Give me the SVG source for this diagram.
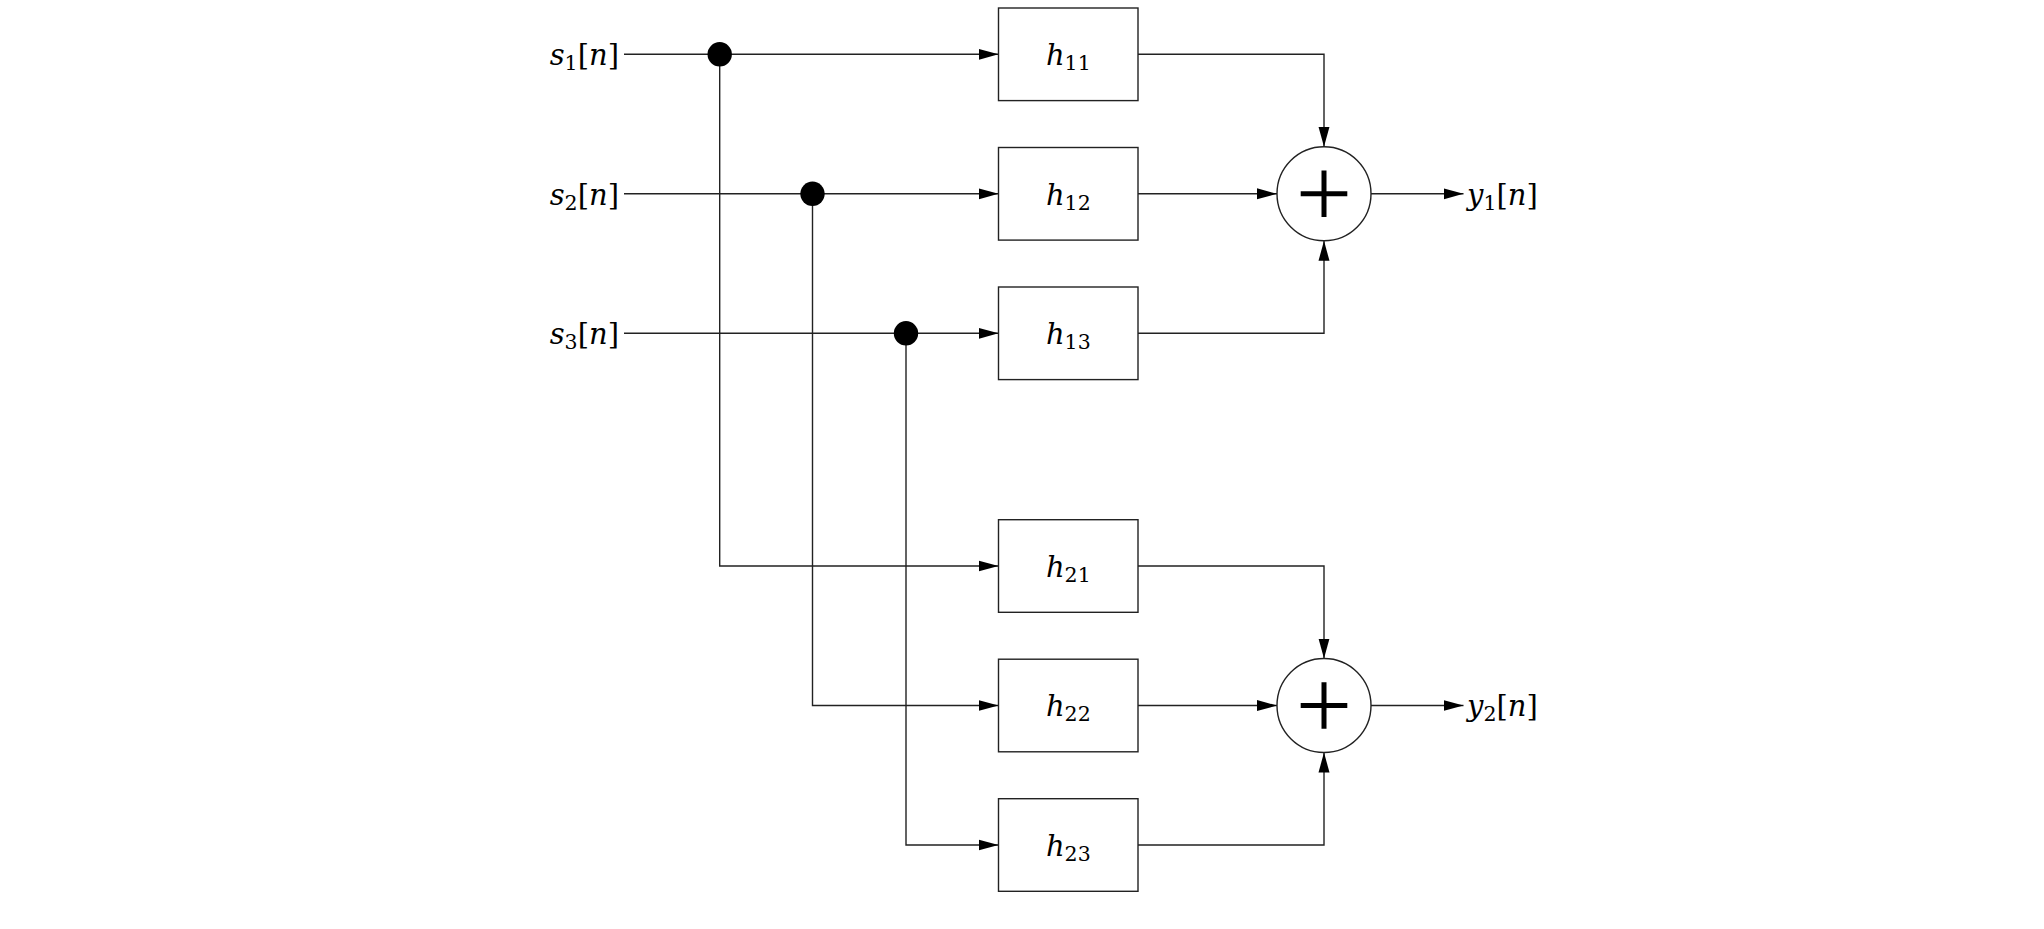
<svg xmlns="http://www.w3.org/2000/svg" width="2044" height="929" viewBox="0 0 2044 929">
<style>
.w{fill:none;stroke:#222;stroke-width:1.4}
.box{fill:#fff;stroke:#222;stroke-width:1.4}
.sum{fill:#fff;stroke:#222;stroke-width:1.4}
.plus{stroke:#000;stroke-width:5;fill:none}
.dot{fill:#000}
.t{font-family:'DejaVu Serif',serif;font-size:29px;fill:#000}
.i{font-style:italic}
.sub{font-size:20.5px}
</style>
<defs>
<marker id="arr" markerUnits="userSpaceOnUse" markerWidth="22" markerHeight="12" refX="20" refY="6" orient="auto">
<path d="M0,0.5 L20,6 L0,11.5 Z" fill="#000"/>
</marker>
</defs>
<rect width="2044" height="929" fill="#fff"/>
<g id="connectors">
<path class="w" d="M624,54.3 H998.5" marker-end="url(#arr)"/>
<path class="w" d="M624,193.8 H998.5" marker-end="url(#arr)"/>
<path class="w" d="M624,333.3 H998.5" marker-end="url(#arr)"/>
<path class="w" d="M719.7,54.3 V566 H998.5" marker-end="url(#arr)"/>
<path class="w" d="M812.5,193.8 V705.5 H998.5" marker-end="url(#arr)"/>
<path class="w" d="M906,333.3 V845 H998.5" marker-end="url(#arr)"/>
<path class="w" d="M1138,54.3 H1324 V146.8" marker-end="url(#arr)"/>
<path class="w" d="M1138,193.8 H1277" marker-end="url(#arr)"/>
<path class="w" d="M1138,333.3 H1324 V240.8" marker-end="url(#arr)"/>
<path class="w" d="M1371,193.8 H1463.5" marker-end="url(#arr)"/>
<path class="w" d="M1138,566 H1324 V658.5" marker-end="url(#arr)"/>
<path class="w" d="M1138,705.5 H1277" marker-end="url(#arr)"/>
<path class="w" d="M1138,845 H1324 V752.5" marker-end="url(#arr)"/>
<path class="w" d="M1371,705.5 H1463.5" marker-end="url(#arr)"/>
<circle class="dot" cx="719.7" cy="54.3" r="12.2"/>
<circle class="dot" cx="812.5" cy="193.8" r="12.2"/>
<circle class="dot" cx="906" cy="333.3" r="12.2"/>
</g>
<g id="in1"><text class="t" x="619" y="65" text-anchor="end"><tspan class="i">s</tspan><tspan class="sub" dy="5">1</tspan><tspan dy="-5">[</tspan><tspan class="i">n</tspan>]</text></g>
<g id="in2"><text class="t" x="619" y="204.5" text-anchor="end"><tspan class="i">s</tspan><tspan class="sub" dy="5">2</tspan><tspan dy="-5">[</tspan><tspan class="i">n</tspan>]</text></g>
<g id="in3"><text class="t" x="619" y="344" text-anchor="end"><tspan class="i">s</tspan><tspan class="sub" dy="5">3</tspan><tspan dy="-5">[</tspan><tspan class="i">n</tspan>]</text></g>
<g id="h11"><rect class="box" x="998.5" y="8" width="139.5" height="92.6"/><text class="t" x="1068.3" y="65.2" text-anchor="middle"><tspan class="i">h</tspan><tspan class="sub" dy="5">11</tspan></text></g>
<g id="h12"><rect class="box" x="998.5" y="147.5" width="139.5" height="92.6"/><text class="t" x="1068.3" y="204.7" text-anchor="middle"><tspan class="i">h</tspan><tspan class="sub" dy="5">12</tspan></text></g>
<g id="h13"><rect class="box" x="998.5" y="287" width="139.5" height="92.6"/><text class="t" x="1068.3" y="344.2" text-anchor="middle"><tspan class="i">h</tspan><tspan class="sub" dy="5">13</tspan></text></g>
<g id="h21"><rect class="box" x="998.5" y="519.7" width="139.5" height="92.6"/><text class="t" x="1068.3" y="576.9" text-anchor="middle"><tspan class="i">h</tspan><tspan class="sub" dy="5">21</tspan></text></g>
<g id="h22"><rect class="box" x="998.5" y="659.2" width="139.5" height="92.6"/><text class="t" x="1068.3" y="716.4" text-anchor="middle"><tspan class="i">h</tspan><tspan class="sub" dy="5">22</tspan></text></g>
<g id="h23"><rect class="box" x="998.5" y="798.7" width="139.5" height="92.6"/><text class="t" x="1068.3" y="855.9" text-anchor="middle"><tspan class="i">h</tspan><tspan class="sub" dy="5">23</tspan></text></g>
<g id="sum1"><circle class="sum" cx="1324" cy="193.8" r="47"/><path class="plus" d="M1300.7,193.8 H1347.3 M1324,170.5 V217.1"/></g>
<g id="sum2"><circle class="sum" cx="1324" cy="705.5" r="47"/><path class="plus" d="M1300.7,705.5 H1347.3 M1324,682.2 V728.8"/></g>
<g id="out1"><text class="t" x="1467" y="204.5" text-anchor="start"><tspan class="i">y</tspan><tspan class="sub" dy="5">1</tspan><tspan dy="-5">[</tspan><tspan class="i">n</tspan>]</text></g>
<g id="out2"><text class="t" x="1467" y="716.2" text-anchor="start"><tspan class="i">y</tspan><tspan class="sub" dy="5">2</tspan><tspan dy="-5">[</tspan><tspan class="i">n</tspan>]</text></g>
</svg>
